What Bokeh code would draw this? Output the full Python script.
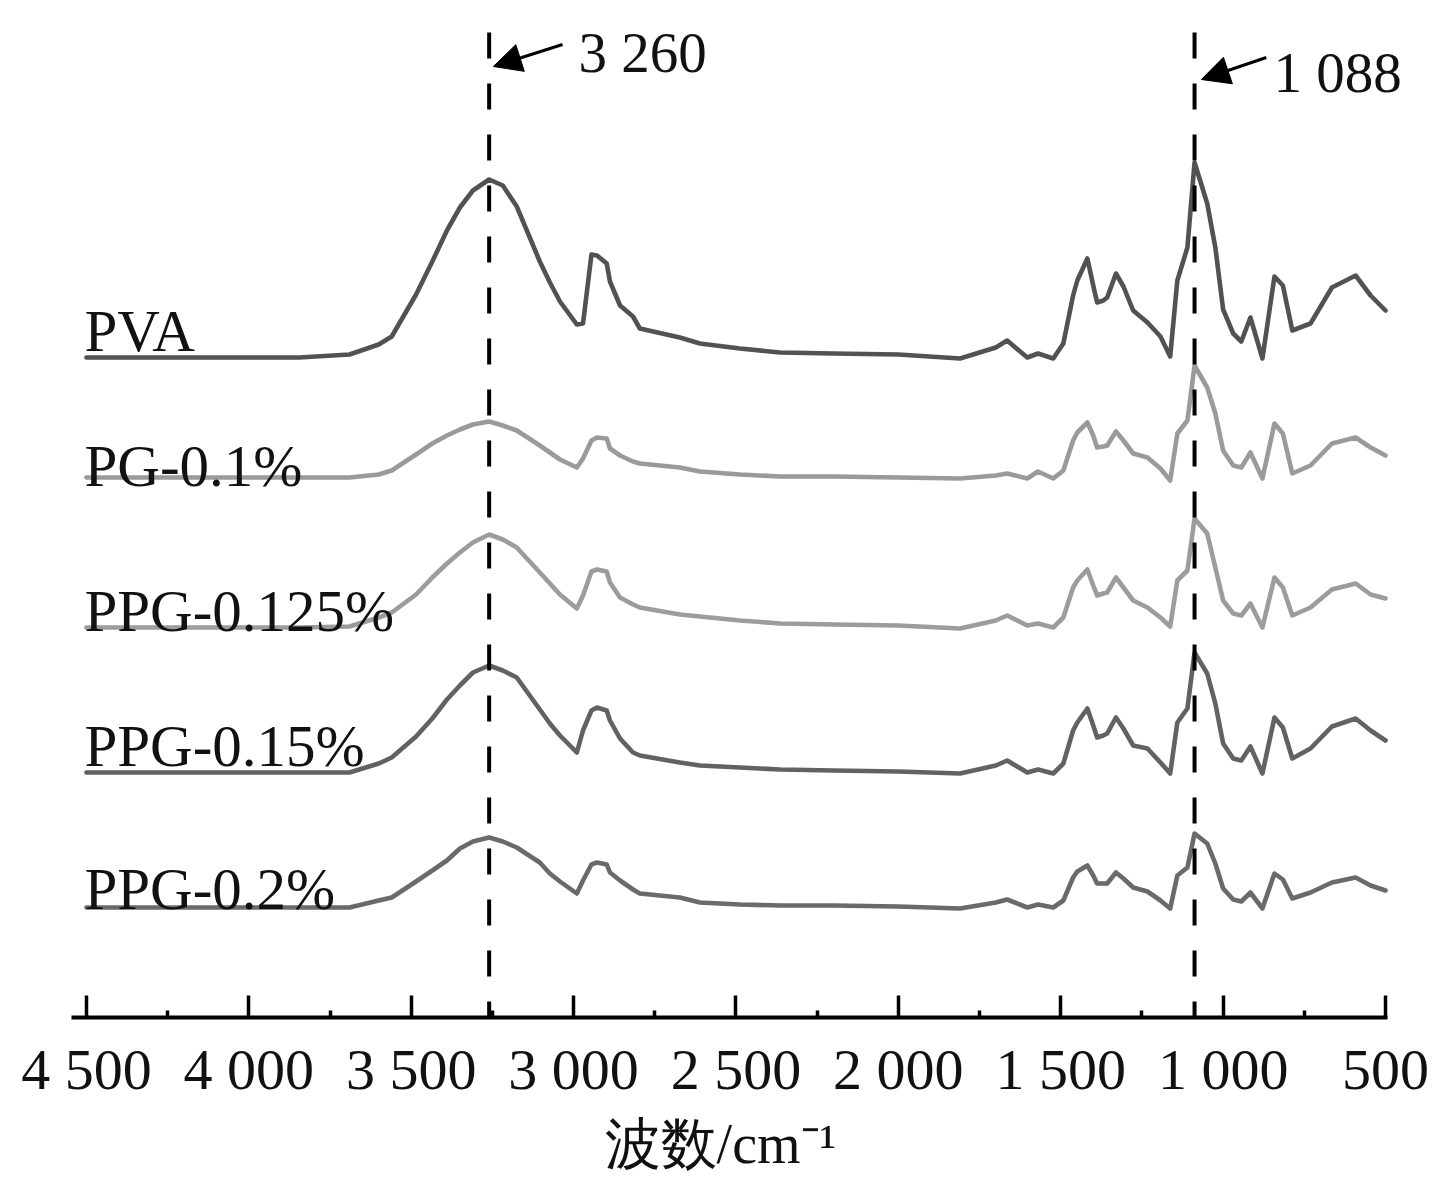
from bokeh.plotting import figure
from bokeh.models import Range1d, FixedTicker, Arrow, NormalHead, Label
from bokeh.core.properties import value
from bokeh.embed import file_html
from bokeh.resources import INLINE

# ---- data ----
wavenumber = [4500, 3845, 3690, 3600, 3560, 3485, 3435, 3390, 3350, 3310,
              3260, 3218, 3175, 3104, 3073, 3042, 2990, 2971, 2945, 2928,
              2898, 2888, 2857, 2817, 2796, 2673, 2611, 2488, 2364, 2200,
              2000, 1810, 1700, 1665, 1603, 1570, 1523, 1492, 1462, 1449,
              1418, 1400, 1388, 1369, 1357, 1330, 1307, 1277, 1233, 1193,
              1163, 1141, 1110, 1088, 1049, 1024, 1000, 969, 944, 916,
              879, 842, 816, 787, 731, 665, 592, 546, 500]

pva = [0, 0, 0.3, 1.3, 2.1, 6.3, 9.6, 12.7, 15.0, 16.7,
       17.8, 17.2, 15.1, 9.6, 7.5, 5.6, 3.3, 3.4, 10.3, 10.2,
       9.4, 7.6, 5.2, 4.1, 2.9, 2.0, 1.4, 0.9, 0.5, 0.4,
       0.3, -0.1, 1.0, 1.7, 0.0, 0.4, -0.1, 1.4, 6.2, 7.7,
       9.9, 7.2, 5.5, 5.7, 6.0, 8.4, 7.1, 4.7, 3.5, 2.1,
       0.1, 7.7, 11.0, 19.5, 15.4, 11.0, 4.8, 2.4, 1.6, 4.0,
       -0.1, 8.1, 7.2, 2.7, 3.4, 7.0, 8.2, 6.2, 4.7]

pg_01 = [0, 0, 0, 0.3, 0.7, 2.3, 3.4, 4.2, 4.8, 5.3,
         5.6, 5.2, 4.7, 3.2, 2.5, 1.8, 1.0, 1.9, 3.7, 4.0,
         3.9, 2.9, 2.2, 1.6, 1.4, 1.0, 0.6, 0.3, 0.1, 0.1,
         0, -0.1, 0.2, 0.4, -0.1, 0.6, -0.1, 0.7, 3.7, 4.5,
         5.5, 4.2, 3.0, 3.1, 3.2, 4.6, 3.7, 2.4, 2.0, 0.9,
         -0.3, 4.4, 5.7, 11.2, 9.0, 6.4, 2.7, 1.2, 1.0, 2.5,
         -0.1, 5.4, 4.4, 0.4, 1.2, 3.4, 4.0, 3.0, 2.2]

ppg_0125 = [0, 0, 0.1, 1.0, 1.5, 3.3, 5.0, 6.4, 7.5, 8.5,
            9.3, 8.8, 8.0, 5.5, 4.4, 3.3, 1.9, 3.2, 5.6, 5.8,
            5.6, 4.5, 3.0, 2.3, 2.0, 1.3, 1.1, 0.7, 0.4, 0.3,
            0.2, -0.1, 0.7, 1.2, 0.2, 0.4, 0, 1.0, 4.0, 4.7,
            5.8, 4.2, 3.2, 3.4, 3.5, 5.0, 4.0, 2.7, 2.0, 1.0,
            0.1, 4.7, 5.7, 10.9, 9.4, 6.0, 2.7, 1.4, 1.2, 2.4,
            0, 5.0, 4.0, 1.2, 2.0, 3.8, 4.4, 3.3, 2.9]

ppg_015 = [0, 0, 0, 0.9, 1.5, 3.6, 5.4, 7.3, 8.7, 10.0,
           10.7, 10.2, 9.5, 6.3, 4.9, 3.7, 2.0, 4.2, 6.2, 6.5,
           6.2, 5.2, 3.4, 2.0, 1.7, 1.0, 0.7, 0.5, 0.3, 0.2,
           0.1, -0.1, 0.7, 1.2, 0, 0.3, -0.1, 0.9, 4.2, 5.0,
           6.4, 4.7, 3.5, 3.7, 3.9, 5.5, 4.4, 2.7, 2.4, 1.0,
           -0.1, 5.0, 6.4, 12.0, 9.9, 6.9, 2.9, 1.4, 1.2, 2.6,
           -0.1, 5.5, 4.5, 1.4, 2.4, 4.6, 5.4, 4.2, 3.2]

ppg_02 = [0, 0, 0, 0.7, 1.0, 2.6, 3.7, 4.7, 5.9, 6.6,
          7.0, 6.6, 6.0, 4.5, 3.4, 2.6, 1.4, 2.7, 4.3, 4.5,
          4.3, 3.5, 2.7, 1.8, 1.4, 1.0, 0.5, 0.3, 0.2, 0.2,
          0.1, -0.1, 0.5, 0.8, 0, 0.3, 0, 0.7, 3.0, 3.6,
          4.2, 3.2, 2.4, 2.4, 2.4, 3.5, 2.9, 2.0, 1.6, 0.7,
          -0.1, 3.2, 4.0, 7.4, 6.4, 4.4, 1.9, 0.8, 0.6, 1.5,
          -0.1, 3.4, 2.8, 0.9, 1.5, 2.5, 3.0, 2.2, 1.7]

series_names = ["PVA", "PG-0.1%", "PPG-0.125%", "PPG-0.15%", "PPG-0.2%"]
series_values = [pva, pg_01, ppg_0125, ppg_015, ppg_02]
series_offsets = [66.0, 54.0, 39.0, 24.5, 11.0]

peak_positions = [3260, 1088]
peak_labels = ["3 260", "1 088"]

major_ticks = [4500, 4000, 3500, 3000, 2500, 2000, 1500, 1000, 500]
tick_labels = ["4 500", "4 000", "3 500", "3 000", "2 500", "2 000", "1 500", "1 000", "500"]
minor_ticks = [4250, 3750, 3250, 2750, 2250, 1750, 1250, 750]

# ---- styles ----
series_colors = ["#525252", "#9a9a9a", "#9c9c9c", "#626262", "#6a6a6a"]
label_gaps = [2.7, 1.2, 1.7, 2.7, 1.9]
SERIF = "Liberation Serif"

# frame extends a little past 500 cm-1 so the "1 088" label is not clipped;
# the axis line itself is limited to 4546..494 through `bounds`.
p = figure(frame_width=1340, frame_height=1009,
           x_range=Range1d(4546, 420), y_range=Range1d(0, 100.9),
           output_backend="svg", toolbar_location=None,
           min_border_left=71, min_border_right=20, min_border_top=8,
           min_border_bottom=140)
p.outline_line_color = None
p.grid.visible = False
p.yaxis.visible = False
p.background_fill_color = "white"
p.border_fill_color = "white"

for vals, off, col in zip(series_values, series_offsets, series_colors):
    p.line(wavenumber, [v + off for v in vals], line_width=4.6, color=col,
           line_join="round", line_cap="round")

# series names
p.text(x=[4506] * len(series_names),
       y=[o + g for o, g in zip(series_offsets, label_gaps)],
       text=series_names, text_font=value(SERIF), text_font_size="59px",
       text_color="#111111", text_baseline="alphabetic", text_align="left")

# dashed marker lines
p.segment(x0=peak_positions, y0=[98.5, 98.5], x1=peak_positions, y1=[0, 0],
          line_color="black", line_width=4, line_dash="26 25")

# arrows + peak labels
arrow_tails = [(3034, 97.3), (867, 96.0)]
arrow_tips = [(3247, 95.1), (1067, 93.8)]
for (xs, ys), (xe, ye) in zip(arrow_tails, arrow_tips):
    p.add_layout(Arrow(end=NormalHead(size=28, fill_color="black", line_color="black"),
                       x_start=xs, y_start=ys, x_end=xe, y_end=ye,
                       line_color="black", line_width=3))
for lx, ly, txt in zip([2985, 845], [96.5, 94.5], peak_labels):
    p.add_layout(Label(x=lx, y=ly, text=txt, text_font=SERIF, text_font_size="57px",
                       text_color="#111111", text_baseline="alphabetic",
                       text_align="left"))

ax = p.xaxis[0]
ax.bounds = (494, 4546)
ax.ticker = FixedTicker(ticks=major_ticks, minor_ticks=minor_ticks)
ax.major_label_overrides = {t: l for t, l in zip(major_ticks, tick_labels)}
ax.axis_line_width = 4
ax.axis_line_color = "black"
ax.major_tick_in = 22
ax.major_tick_out = 0
ax.minor_tick_in = 7
ax.minor_tick_out = 0
ax.major_tick_line_width = 3.5
ax.minor_tick_line_width = 3.5
ax.major_tick_line_color = "black"
ax.minor_tick_line_color = "black"
ax.major_label_text_font = SERIF
ax.major_label_text_font_size = "58px"
ax.major_label_text_color = "#111111"
ax.major_label_standoff = 19
# trailing no-break spaces shift the centred label left to sit under the axis centre
ax.axis_label = "波数/cm⁻¹\u00a0\u00a0\u00a0"
ax.axis_label_text_font = SERIF
ax.axis_label_text_font_size = "56px"
ax.axis_label_text_font_style = "normal"
ax.axis_label_text_color = "#111111"
ax.axis_label_standoff = 8

open("out.html", "w").write(file_html(p, INLINE))
